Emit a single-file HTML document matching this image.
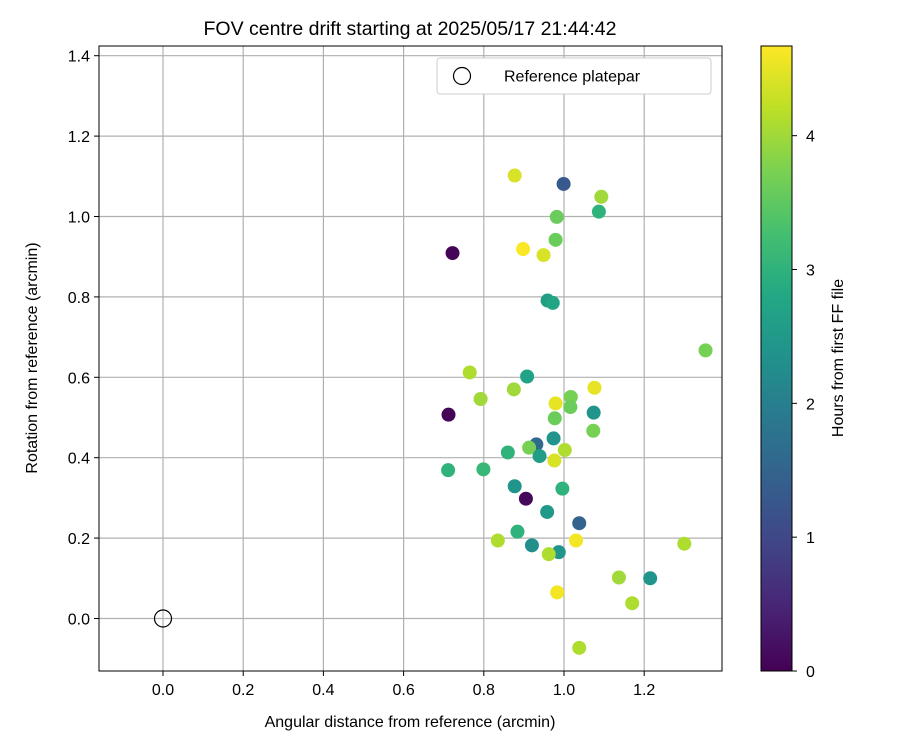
<!DOCTYPE html>
<html><head><meta charset="utf-8"><style>
body{margin:0;background:#fff;}
svg text{font-family:"Liberation Sans",sans-serif;fill:#000;}
</style></head><body>
<svg id="chart" width="900" height="750" viewBox="0 0 900 750" xmlns="http://www.w3.org/2000/svg">
<rect width="900" height="750" fill="#fff"/>
<g id="grid"></g>
<g id="points"></g>
<rect x="99" y="46" width="623" height="625" fill="none" stroke="#000" stroke-width="1"/>
<g id="ticks"></g>
<text x="410" y="35" font-size="19.5" text-anchor="middle">FOV centre drift starting at 2025/05/17 21:44:42</text>
<text x="410" y="727" font-size="16" text-anchor="middle">Angular distance from reference (arcmin)</text>
<text transform="translate(37,358) rotate(-90)" font-size="16" text-anchor="middle">Rotation from reference (arcmin)</text>
<g>
<rect x="437" y="58" width="274" height="36" rx="3" fill="#fff" stroke="#ccc"/>
<circle cx="462" cy="76" r="8.5" fill="none" stroke="#000" stroke-width="1.2"/>
<text x="504" y="81.5" font-size="16">Reference platepar</text>
</g>
<defs><linearGradient id="vir" x1="0" y1="1" x2="0" y2="0"></linearGradient></defs>
<rect x="761" y="46" width="31" height="625" fill="url(#vir)" stroke="#000" stroke-width="1"/>
<g id="cbticks"></g>
<text transform="translate(843,358) rotate(-90)" font-size="16" text-anchor="middle">Hours from first FF file</text>
</svg>
<script>
const xVals=[0.877,0.999,1.093,1.087,0.982,0.722,0.898,0.949,0.979,0.959,0.972,1.353,0.765,0.908,0.875,0.792,1.076,1.017,0.979,
0.712,1.074,1.073,0.977,1.016,0.974,0.931,0.913,0.860,0.939,1.002,0.976,0.711,0.799,0.877,0.905,0.996,0.958,1.038,0.884,0.835,0.920,0.987,0.962,1.030,1.300,1.137,1.215,1.170,0.983,1.038];
const yVals=[1.102,1.081,1.049,1.012,0.999,0.909,0.919,0.904,0.942,0.791,0.785,0.667,0.612,0.602,0.570,0.546,0.574,0.551,0.535,
0.507,0.512,0.467,0.498,0.526,0.448,0.433,0.425,0.413,0.404,0.419,0.393,0.369,0.371,0.329,0.298,0.323,0.265,0.237,0.216,0.194,0.182,0.165,0.160,0.194,0.186,0.102,0.100,0.038,0.065,-0.073];
const hours=[4.4,1.3,4.0,3.0,3.6,0.05,4.65,4.4,3.6,2.6,2.75,3.7,4.1,2.7,4.0,4.0,4.5,3.7,4.5,
0.05,2.4,3.7,3.6,3.6,2.4,1.6,3.7,3.0,2.6,4.1,4.4,3.0,3.1,2.4,0.1,3.0,2.5,1.5,3.0,4.1,2.3,2.4,4.1,4.6,4.1,4.0,2.4,4.1,4.6,4.1];
const xTicks=[0.0,0.2,0.4,0.6,0.8,1.0,1.2];
const yTicks=[0.0,0.2,0.4,0.6,0.8,1.0,1.2,1.4];
const cTicks=[0,1,2,3,4];
const hMax=4.67;
const NS="http://www.w3.org/2000/svg";
const X=v=>163+v*401, Y=v=>618.5-v*402, C=v=>671-v*(625/hMax);
const vir=[[0,'#440154'],[0.1,'#482475'],[0.2,'#414487'],[0.3,'#355f8d'],[0.4,'#2a788e'],[0.5,'#21918c'],[0.6,'#22a884'],[0.7,'#44bf70'],[0.8,'#7ad151'],[0.9,'#bddf26'],[1,'#fde725']];
function hex(h){return [1,3,5].map(i=>parseInt(h.substr(i,2),16));}
function col(t){t=Math.max(0,Math.min(1,t));for(let i=1;i<vir.length;i++){if(t<=vir[i][0]){const a=vir[i-1],b=vir[i];const f=(t-a[0])/(b[0]-a[0]);const ca=hex(a[1]),cb=hex(b[1]);return 'rgb('+ca.map((c,k)=>Math.round(c+(cb[k]-c)*f)).join(',')+')';}}return vir[vir.length-1][1];}
function mk(tag,attrs,parent){const e=document.createElementNS(NS,tag);for(const k in attrs)e.setAttribute(k,attrs[k]);parent.appendChild(e);return e;}
const grid=document.getElementById('grid'),ticks=document.getElementById('ticks'),pts=document.getElementById('points');
xTicks.forEach(v=>{const x=X(v);
 let l=mk('line',{x1:x,x2:x,y1:46,y2:671,stroke:'#b0b0b0','stroke-width':1.2},grid);
 
 let t=mk('line',{x1:x,x2:x,y1:671,y2:676,stroke:'#000'},ticks);
 
 let s=mk('text',{x:x,y:695,'font-size':16,'text-anchor':'middle'},ticks);s.textContent=v.toFixed(1);
 });
yTicks.forEach(v=>{const y=Y(v);
 let l=mk('line',{x1:99,x2:722,y1:y,y2:y,stroke:'#b0b0b0','stroke-width':1.2},grid);
 
 let t=mk('line',{x1:94,x2:99,y1:y,y2:y,stroke:'#000'},ticks);
 
 let s=mk('text',{x:90,y:y+6,'font-size':16,'text-anchor':'end'},ticks);s.textContent=v.toFixed(1);
 });
xVals.forEach((v,i)=>{let c=mk('circle',{cx:X(v),cy:Y(yVals[i]),r:7,fill:col(hours[i]/hMax)},pts);
 });
let ref=mk('circle',{cx:X(0),cy:Y(0),r:8.5,fill:'none',stroke:'#000','stroke-width':1.2},pts);

const g=document.getElementById('vir');
vir.forEach(s=>{mk('stop',{offset:s[0],'stop-color':s[1]},g);});
const cb=document.getElementById('cbticks');
cTicks.forEach(v=>{const y=C(v);
 let t=mk('line',{x1:792,x2:797,y1:y,y2:y,stroke:'#000'},cb);
 
 let s=mk('text',{x:806,y:y+6,'font-size':16},cb);s.textContent=v;
 });
</script>
</body></html>
